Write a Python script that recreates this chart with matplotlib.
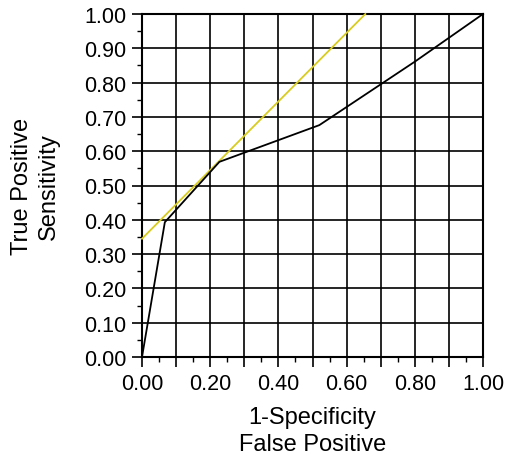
import matplotlib
matplotlib.use("Agg")
import matplotlib.pyplot as plt
import numpy as np

# ROC curve
fpr = [0.0, 0.067, 0.227, 0.52, 0.80, 1.0]
tpr = [0.0, 0.393, 0.569, 0.676, 0.861, 1.0]

# tangent line, slope 1
tan_x = [0.0, 0.655]
tan_y = [0.345, 1.0]

x_ticks = [0.0, 0.2, 0.4, 0.6, 0.8, 1.0]
y_ticks = [0.0, 0.1, 0.2, 0.3, 0.4, 0.5, 0.6, 0.7, 0.8, 0.9, 1.0]

plt.rcParams["font.family"] = ["Liberation Sans", "DejaVu Sans"]

fig = plt.figure(figsize=(5.05, 4.64), dpi=100)
ax = fig.add_axes([142/505, 1 - 358/464, 341/505, 343/464])

ax.set_xlim(0, 1)
ax.set_ylim(0, 1)

# grid every 0.1 on both axes
for g in np.arange(0.1, 1.0, 0.1):
    ax.axvline(g, color="black", lw=1.2, zorder=1)
    ax.axhline(g, color="black", lw=1.2, zorder=1)

ax.plot(tan_x, tan_y, color="#d8cc20", lw=1.3, zorder=3, clip_on=False)
ax.plot(fpr, tpr, color="black", lw=1.3, zorder=4, clip_on=False)

xt = np.round(np.arange(0, 1.01, 0.1), 2)
ax.set_xticks(xt)
ax.set_xticklabels([f"{v:.2f}" if v in x_ticks else "" for v in xt])
ax.set_xticks(np.arange(0.05, 1.0, 0.1), minor=True)
ax.set_yticks(y_ticks)
ax.set_yticklabels([f"{v:.2f}" for v in y_ticks])
ax.set_yticks(np.arange(0.05, 1.0, 0.1), minor=True)

ax.tick_params(which="major", direction="out", length=7, width=1.2, labelsize=15.5, pad=4.5, colors="black")
ax.tick_params(which="minor", direction="out", length=3.5, width=1.0)

for s in ax.spines.values():
    s.set_linewidth(1.5)
    s.set_color("black")

ax.set_xlabel("1-Specificity\nFalse Positive", fontsize=17, linespacing=1.3)
ax.set_ylabel("True Positive\nSensitivity", fontsize=17, linespacing=1.3)
ax.xaxis.set_label_coords(0.5, -0.143)
ax.yaxis.set_label_coords(-0.24, 0.5)

fig.savefig("out.png", dpi=100)
